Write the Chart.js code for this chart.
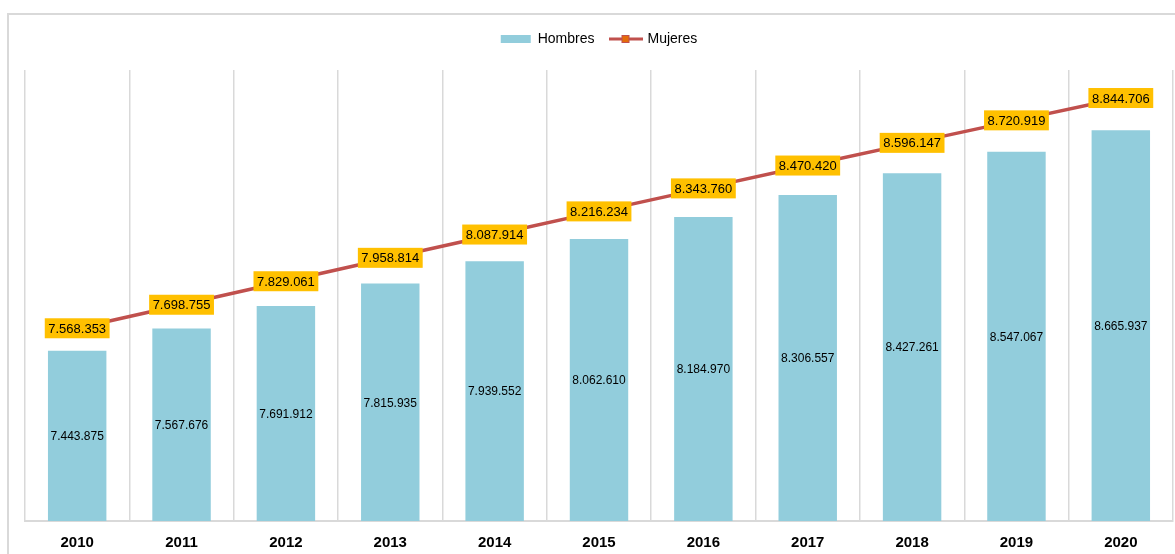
<!DOCTYPE html>
<html lang="es">
<head>
    <meta charset="UTF-8">
    <title>Hombres y Mujeres 2010-2020</title>
    <script src="https://cdn.jsdelivr.net/npm/chart.js"></script>
    <style>
        html, body { margin: 0; padding: 0; background: #fff; }
        #wrap { position: relative; width: 1175px; height: 554px; }
    </style>
</head>
<body>
    <div id="wrap"><canvas id="popChart" width="1175" height="554"></canvas></div>
    <script>
        // datos
        const years = ['2010', '2011', '2012', '2013', '2014', '2015', '2016', '2017', '2018', '2019', '2020'];
        const hombres = [7443875, 7567676, 7691912, 7815935, 7939552, 8062610, 8184970, 8306557, 8427261, 8547067, 8665937];
        const mujeres = [7568353, 7698755, 7829061, 7958814, 8087914, 8216234, 8343760, 8470420, 8596147, 8720919, 8844706];

        const BAR_COLOR = '#92CDDC';
        const LINE_COLOR = '#C0504D';
        const LABEL_BG = '#FFC000';
        const FONT = '"Liberation Sans", Arial, sans-serif';

        // formato 7.443.875
        function fmt(v) {
            return String(v).replace(/\B(?=(\d{3})+(?!\d))/g, '.');
        }

        // iconos de la leyenda
        function makeIcon(kind) {
            const c = document.createElement('canvas');
            c.width = 34; c.height = 10;
            const g = c.getContext('2d');
            if (kind === 'bar') {
                g.fillStyle = BAR_COLOR;
                g.fillRect(2, 1, 30, 8);
            } else {
                g.fillStyle = LINE_COLOR;
                g.fillRect(0, 3.5, 34, 3);
                g.fillStyle = '#E46C0A';
                g.strokeStyle = LINE_COLOR;
                g.lineWidth = 1;
                g.fillRect(13, 1, 8, 8);
                g.strokeRect(13.5, 1.5, 7, 7);
            }
            return c;
        }
        const icons = [makeIcon('bar'), makeIcon('line')];

        const framePlugin = {
            id: 'frame',
            afterInit(chart) {
                // leyenda mas alta para bajar el area del grafico
                const lg = chart.legend;
                const origFit = lg.fit;
                lg.fit = function () {
                    origFit.call(this);
                    this.height = 54;
                };
            },
            beforeDraw(chart) {
                const ctx = chart.ctx;
                ctx.save();
                ctx.strokeStyle = '#d9d9d9';
                ctx.lineWidth = 2;
                ctx.beginPath();
                ctx.moveTo(8, 554);
                ctx.lineTo(8, 14);
                ctx.lineTo(1175, 14);
                ctx.stroke();
                ctx.restore();
            }
        };

        const labelPlugin = {
            id: 'valueLabels',
            afterDatasetsDraw(chart) {
                const ctx = chart.ctx;
                const xs = chart.scales.x;
                const ys = chart.scales.y;
                const bottom = chart.chartArea.bottom;
                ctx.save();
                ctx.textAlign = 'center';
                ctx.textBaseline = 'middle';

                // etiquetas dentro de las barras
                ctx.font = '12px ' + FONT;
                ctx.fillStyle = '#000';
                hombres.forEach((v, i) => {
                    const x = xs.getPixelForValue(i);
                    const y = (ys.getPixelForValue(v) + bottom) / 2;
                    ctx.fillText(fmt(v), x, y + 1);
                });

                // etiquetas de la linea
                ctx.font = '13px ' + FONT;
                mujeres.forEach((v, i) => {
                    const x = xs.getPixelForValue(i);
                    const y = ys.getPixelForValue(v);
                    const txt = fmt(v);
                    const w = ctx.measureText(txt).width + 7;
                    const h = 20;
                    ctx.fillStyle = LABEL_BG;
                    ctx.fillRect(x - w / 2, y - h / 2, w, h);
                    ctx.fillStyle = '#000';
                    ctx.fillText(txt, x, y + 1);
                });
                ctx.restore();
            }
        };

        const ctx = document.getElementById('popChart').getContext('2d');
        const chart = new Chart(ctx, {
            type: 'bar',
            data: {
                labels: years,
                datasets: [{
                    type: 'bar',
                    label: 'Hombres',
                    data: hombres,
                    backgroundColor: BAR_COLOR,
                    barPercentage: 0.56,
                    categoryPercentage: 1,
                    order: 2
                }, {
                    type: 'line',
                    label: 'Mujeres',
                    data: mujeres,
                    borderColor: LINE_COLOR,
                    backgroundColor: '#E46C0A',
                    borderWidth: 3.5,
                    pointRadius: 0,
                    fill: false,
                    order: 1
                }]
            },
            options: {
                responsive: false,
                animation: false,
                layout: { padding: { top: 16, left: 25, right: 2, bottom: 0 } },
                plugins: {
                    tooltip: { enabled: false },
                    legend: {
                        position: 'top',
                        labels: {
                            usePointStyle: true,
                            pointStyleWidth: 30,
                            boxHeight: 8,
                            padding: 16,
                            color: '#000',
                            font: { family: FONT, size: 14 },
                            generateLabels(c) {
                                return c.data.datasets.map((ds, i) => ({
                                    text: ds.label,
                                    pointStyle: icons[i],
                                    fillStyle: 'transparent',
                                    strokeStyle: 'transparent',
                                    lineWidth: 0,
                                    datasetIndex: i,
                                    fontColor: '#000'
                                }));
                            }
                        }
                    }
                },
                scales: {
                    x: {
                        grid: { display: true, offset: true, color: '#d9d9d9', lineWidth: 1.5, drawTicks: false },
                        border: { color: '#d9d9d9', width: 2 },
                        ticks: {
                            color: '#000',
                            padding: 13,
                            font: { family: FONT, size: 15, weight: 'bold' }
                        },
                        afterFit(scale) {
                            scale.height = 33;
                        }
                    },
                    y: {
                        display: false,
                        min: 6500000,
                        max: 9000000
                    }
                }
            },
            plugins: [framePlugin, labelPlugin]
        });
    </script>
</body>
</html>
